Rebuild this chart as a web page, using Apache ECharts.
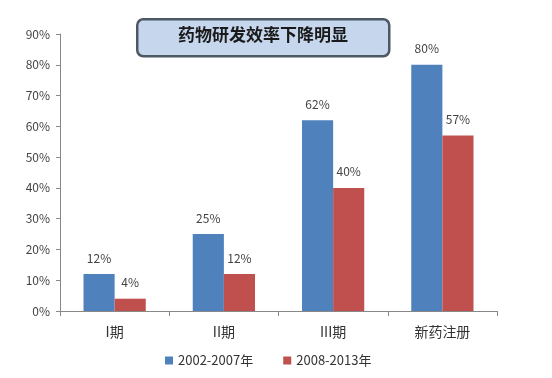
<!DOCTYPE html>
<html>
<head>
<meta charset="utf-8">
<script src="https://cdn.jsdelivr.net/npm/echarts@6/dist/echarts.min.js"></script>
<style>
  html, body { margin: 0; padding: 0; background: #fff; }
  #main { width: 552px; height: 378px; }
</style>
</head>
<body>
<div id="main"></div>
<script>
// 分类和数据
var categories = ["I期", "II期", "III期", "新药注册"];
var names = ["2002-2007年", "2008-2013年"];
var early = [12, 25, 62, 80];
var late = [4, 12, 40, 57];

var chart = echarts.init(document.getElementById("main"));
var font = "'Noto Sans CJK SC', 'DejaVu Sans', sans-serif";

chart.setOption({
  animation: false,
  color: ["#4f81bd", "#c0504d"],
  grid: { left: 60, right: 55, top: 34, bottom: 67 },
  graphic: [
    {
      type: "rect",
      left: 136, top: 18,
      shape: { width: 252, height: 37, r: 6 },
      style: { fill: "#c6d6ec", stroke: "#4d5866", lineWidth: 2.5 }
    },
    {
      type: "text",
      left: 178, top: 26,
      style: { text: "药物研发效率下降明显", font: "bold 17px " + font, fill: "#1a1a1a" }
    }
  ],
  legend: {
    bottom: 6,
    left: 160,
    itemWidth: 8, itemHeight: 8,
    itemGap: 30,
    icon: "rect",
    textStyle: { fontSize: 13, color: "#333", fontFamily: font },
    data: names
  },
  xAxis: {
    type: "category",
    data: categories,
    axisLine: { lineStyle: { color: "#888" } },
    axisTick: { show: true, length: 5, lineStyle: { color: "#888" } },
    axisLabel: { color: "#333", fontSize: 14, margin: 14, fontFamily: font }
  },
  yAxis: {
    type: "value",
    min: 0, max: 90, interval: 10,
    splitLine: { show: false },
    axisLine: { show: true, lineStyle: { color: "#888" } },
    axisTick: { show: true, length: 4, lineStyle: { color: "#888" } },
    axisLabel: { formatter: "{value}%", color: "#444", fontSize: 12, margin: 10, fontFamily: font }
  },
  series: [
    {
      name: names[0], type: "bar", data: early,
      barGap: "0%", barCategoryGap: "43%",
      label: { show: true, position: "top", distance: 10, formatter: "{c}%", color: "#444", fontSize: 12, fontFamily: font }
    },
    {
      name: names[1], type: "bar", data: late,
      label: { show: true, position: "top", distance: 10, formatter: "{c}%", color: "#444", fontSize: 12, fontFamily: font }
    }
  ]
});
</script>
</body>
</html>
